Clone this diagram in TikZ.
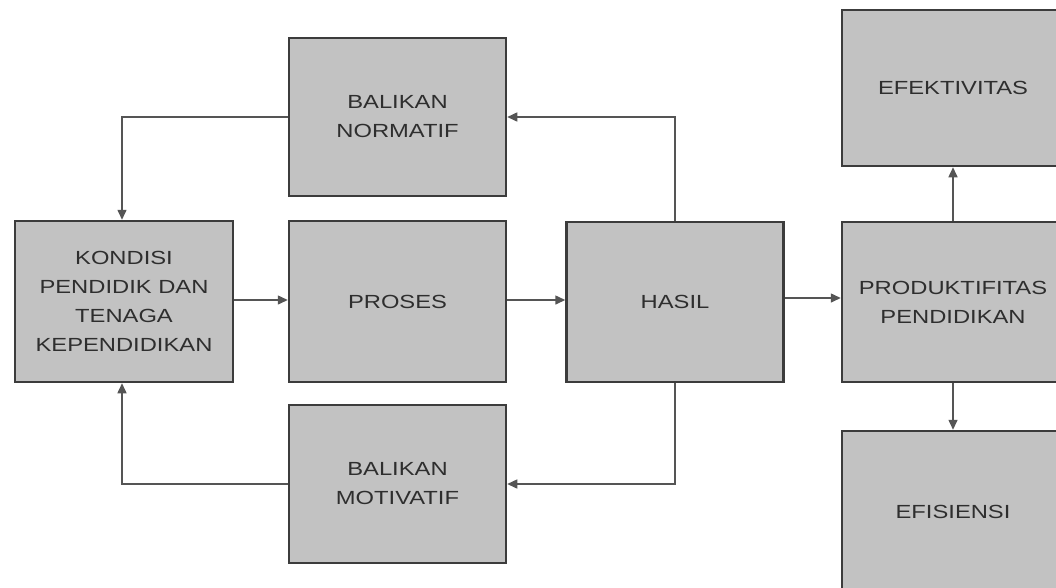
\documentclass[tikz,border=0pt]{standalone}
\usepackage{fontspec}
\setmainfont[FakeStretch=1.25]{Liberation Sans}
\usetikzlibrary{arrows.meta}
\definecolor{boxfill}{HTML}{C2C2C2}
\definecolor{boxline}{HTML}{3C3C3C}
\definecolor{wire}{HTML}{555555}
\definecolor{ink}{HTML}{2E2E2E}
\tikzset{
  block/.style={draw=boxline, fill=boxfill, line width=2.5pt, rectangle,
    align=center, text=ink, inner sep=0pt,
    font=\fontsize{19pt}{29pt}\selectfont},
  wirearrow/.style={draw=wire, line width=1.5pt,
    -{Triangle[length=10pt,width=9pt]}},
}
\begin{document}
\begin{tikzpicture}[x=1pt,y=-1pt]
\useasboundingbox (0,0) rectangle (1056,587);
\fill[white] (0,0) rectangle (1056,587);

% feedback and main chain blocks
\node[block, minimum width=217pt, minimum height=158pt] (norm) at (397.5,117) {BALIKAN\\NORMATIF};
\node[block, minimum width=218pt, minimum height=161pt] (kond) at (124,301.5) {KONDISI\\PENDIDIK DAN\\TENAGA\\KEPENDIDIKAN};
\node[block, minimum width=217pt, minimum height=161pt] (proses) at (397.5,301.5) {PROSES};
\node[block, minimum width=217pt, minimum height=160pt] (hasil) at (675,302) {HASIL};
\node[block, minimum width=217pt, minimum height=158pt] (motiv) at (397.5,484) {BALIKAN\\MOTIVATIF};

% outcome blocks (running past the right edge)
\node[block, minimum width=222pt, minimum height=156pt] (efek) at (953,88) {EFEKTIVITAS};
\node[block, minimum width=222pt, minimum height=160pt] (prod) at (953,302) {PRODUKTIFITAS\\PENDIDIKAN};
\node[block, minimum width=222pt, minimum height=162pt] (efis) at (953,512) {EFISIENSI};

% main flow
\draw[wirearrow] (kond.east |- 0,300) -- (proses.west |- 0,300);
\draw[wirearrow] (proses.east |- 0,300) -- (hasil.west |- 0,300);
\draw[wirearrow] (hasil.east |- 0,298) -- (prod.west |- 0,298);
\draw[wirearrow] (prod.north) -- (efek.south);
\draw[wirearrow] (prod.south) -- (efis.north);

% feedback loops
\coordinate (kx) at (122,0);
\draw[wirearrow] (hasil.north) |- (norm.east);
\draw[wirearrow] (norm.west) -| (kx |- kond.north);
\draw[wirearrow] (hasil.south) |- (motiv.east);
\draw[wirearrow] (motiv.west) -| (kx |- kond.south);
\end{tikzpicture}
\end{document}
